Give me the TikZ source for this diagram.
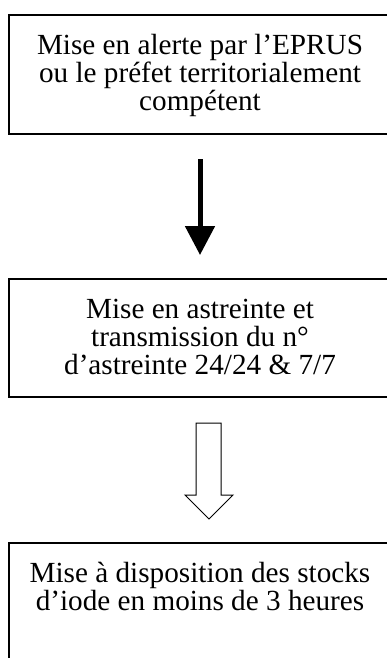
\documentclass[tikz,border=0pt]{standalone}
\usepackage{fontspec}
\setmainfont{Liberation Serif}
\usetikzlibrary{arrows.meta}
\begin{document}
\begin{tikzpicture}[x=1pt,y=1pt,
  box/.style={draw, line width=1.6pt, minimum width=382pt, minimum height=#1, inner sep=0pt, outer sep=0pt, anchor=north west},
  txt/.style={font=\fontsize{29.2}{28}\selectfont, align=center, inner sep=0pt, anchor=north},
  solidarrow/.style={line width=5pt, -{Triangle[width=29pt,length=29pt]}},
  hollowarrow/.style={draw, line width=1pt, fill=white, line join=miter}]
\useasboundingbox (0,0) rectangle (387,-658);
\clip (0,0) rectangle (387,-658);
\node[box=119pt] (b1) at (9,-15) {};
\node[txt] (t1) at ([yshift=-19pt]b1.north) {Mise en alerte par l’EPRUS\\ou le préfet territorialement\\compétent};
\node[box=118pt] (b2) at (9,-279) {};
\node[txt] (t2) at ([yshift=-20pt]b2.north) {Mise en astreinte et\\transmission du n°\\d’astreinte 24/24 \& 7/7};
\node[box=150pt] (b3) at (9,-543) {};
\node[txt] (t3) at ([yshift=-19pt]b3.north) {Mise à disposition des stocks\\d’iode en moins de 3 heures};
\draw[solidarrow, shorten <=25pt, shorten >=24pt] (b1.south) -- (b2.north);
\begin{scope}[shift={(b2.south)}]
\draw[hollowarrow] (-4,-26) -- (21,-26) -- (21,-98) -- (33,-98) -- (9,-122) -- (-15,-98) -- (-4,-98) -- cycle;
\end{scope}
\end{tikzpicture}
\end{document}
